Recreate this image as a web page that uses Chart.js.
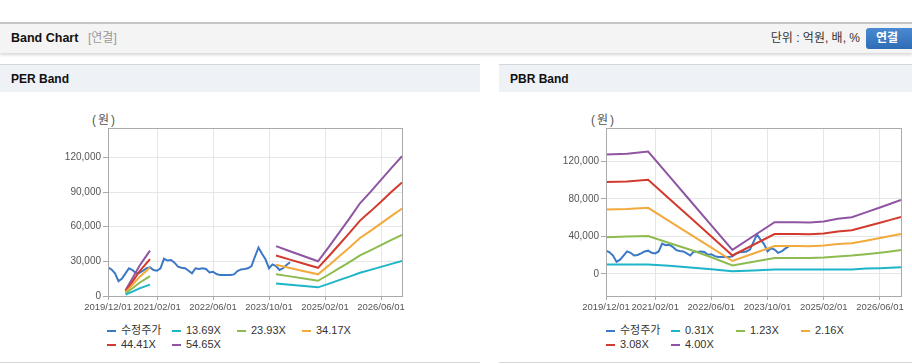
<!DOCTYPE html>
<html>
<head>
<meta charset="utf-8">
<script src="https://cdn.jsdelivr.net/npm/chart.js@4.4.0/dist/chart.umd.min.js"></script>
<style>
  body { margin: 0; width: 912px; height: 364px; overflow: hidden; background: #fff; position: relative;
         font-family: "Liberation Sans", "Noto Sans CJK KR", sans-serif; }
  .topbar { position: absolute; left: 0; top: 22px; width: 912px; height: 29px; background: #f4f4f4;
            border-top: 2px solid #c4c4c4; box-shadow: 0 2px 3px rgba(0,0,0,0.16); line-height: 29px; }
  .topbar .ttl { position: absolute; left: 11px; font-weight: bold; font-size: 12.5px; color: #111; }
  .topbar .sub { position: absolute; left: 88px; font-size: 12px; color: #999; }
  .topbar .unit { position: absolute; right: 52px; font-size: 12px; color: #333; }
  .topbar .btn { position: absolute; left: 866px; top: 4px; width: 50px; height: 21px; line-height: 21px;
                 border-radius: 3px; background: linear-gradient(#4b89d2, #2e6cb6); color: #fff;
                 font-weight: bold; font-size: 12px; text-indent: 10px; }
  .panel { position: absolute; top: 64px; height: 297px; border-top: 1px solid #d6d6d6; border-bottom: 1px solid #d6d6d6; }
  .phead { height: 27px; line-height: 29px; background: #eef1f6; font-weight: bold; font-size: 12px;
           color: #111; padding-left: 11px; }
  .unitlbl { position: absolute; top: 110px; font-size: 12px; color: #555; letter-spacing: 2px; }
  canvas { position: absolute; top: 92px; }
  .leg { position: absolute; top: 323px; width: 270px; font-size: 11px; color: #333; line-height: 14px; }
  .leg span { display: inline-block; width: 65px; white-space: nowrap; }
  .leg i { display: inline-block; width: 9px; height: 2px; margin-right: 5px; vertical-align: middle; }
</style>
</head>
<body>
<div class="topbar">
  <span class="ttl">Band Chart</span><span class="sub">[연결]</span>
  <span class="unit">단위 : 억원, 배, %</span><span class="btn">연결</span>
</div>
<div class="panel" style="left:0;width:480px"><div class="phead">PER Band</div></div>
<div class="panel" style="left:499px;width:413px"><div class="phead">PBR Band</div></div>
<span class="unitlbl" style="left:92px">(원)</span>
<span class="unitlbl" style="left:591px">(원)</span>
<canvas id="per" width="480" height="226" style="left:0"></canvas>
<canvas id="pbr" width="413" height="226" style="left:499px"></canvas>
<div class="leg" id="perLeg" style="left:107px"></div>
<div class="leg" id="pbrLeg" style="left:606px"></div>

<script>
// x axis: months since 2019/12/01
const xTickMonths = [0, 14, 30, 46, 62, 78];
const xTickLabels = ['2019/12/01', '2021/02/01', '2022/06/01', '2023/10/01', '2025/02/01', '2026/06/01'];

// 수정주가 (monthly, from 2019/12)
const price = [24800, 23000, 19600, 12800, 15200, 19600, 24000, 22500, 19600, 20200, 21900, 24000,
  24800, 22500, 21900, 24000, 32400, 30700, 31200, 28900, 25400, 24500, 24000, 21900, 19600, 24000,
  23400, 24000, 23400, 20400, 21000, 19000, 18100, 18100, 18100, 18100, 18700, 21600, 23000, 23400,
  24000, 26000, 34200, 42000, 36500, 31800, 24000, 27400, 26000, 22500, 24000, 26900, 29200];

// PER band (null = no band)
const perNames = ['수정주가', '13.69X', '23.93X', '34.17X', '44.41X', '54.65X'];
const perMonths = [5, 7, 9, 11, 12, 30, 48, 52, 56, 60, 63, 66, 69, 72, 75, 78, 81, 84];
const per1369 = [1200, 3800, 6600, 8800, 9900, null, 10800, 9700, 8600, 7500, 10500, 13700, 16800, 20100, 22600, 25200, 27800, 30300];
const per2393 = [2200, 6700, 11500, 15300, 17200, null, 18900, 17000, 15100, 13200, 18400, 23900, 29400, 35200, 39500, 44000, 48600, 53000];
const per3417 = [3100, 9600, 16400, 21900, 24600, null, 27000, 24300, 21500, 18800, 26300, 34200, 42000, 50200, 56400, 62900, 69400, 75700];
const per4441 = [4000, 12400, 21300, 28400, 32000, null, 35100, 31500, 28000, 24400, 34200, 44400, 54600, 65300, 73300, 81700, 90200, 98400];
const per5465 = [4900, 15300, 26200, 35000, 39300, null, 43200, 38800, 34400, 30100, 42100, 54700, 67200, 80300, 90200, 100600, 110900, 121100];
const perYTicks = [0, 30000, 60000, 90000, 120000];

// PBR band
const pbrNames = ['수정주가', '0.31X', '1.23X', '2.16X', '3.08X', '4.00X'];
const pbrMonths = [0, 6, 12, 18, 24, 30, 36, 42, 48, 54, 58, 62, 66, 70, 74, 78, 81, 84];
const pbr031 = [10000, 10000, 10000, 8600, 6800, 5000, 3000, 3700, 4700, 4700, 4700, 4700, 4700, 4800, 5700, 6100, 6500, 7100];
const pbr123 = [39200, 39800, 40300, 33000, 25800, 17800, 9000, 13000, 17100, 17100, 17100, 17600, 18600, 19600, 21000, 22600, 24000, 25400];
const pbr216 = [68700, 69100, 70400, 56300, 42100, 28000, 13800, 21800, 29800, 29800, 29600, 30200, 31800, 32600, 35400, 38200, 40400, 42600];
const pbr308 = [97900, 98600, 100400, 80200, 60100, 39900, 19700, 31100, 42500, 42500, 42200, 43100, 45300, 46500, 50500, 54500, 57600, 60700];
const pbr400 = [127200, 128000, 130400, 104200, 78000, 51800, 25600, 40400, 55200, 55200, 54800, 56000, 58800, 60400, 65600, 70800, 74800, 78800];
const pbrYTicks = [0, 40000, 80000, 120000];

const colors = ['#3b78c6', '#1db5c8', '#8dbb50', '#f2aa3c', '#d23a2e', '#8f55a2'];

Chart.defaults.font.family = '"Liberation Sans", "Noto Sans CJK KR", sans-serif';
Chart.defaults.font.size = 10;
Chart.defaults.color = '#555';

function points(months, values) {
  return values.map((v, i) => ({ x: months[i], y: v }));
}

// gray box around the plot
const boxPlugin = {
  id: 'box',
  afterDraw(chart) {
    const a = chart.chartArea, ctx = chart.ctx;
    ctx.save();
    ctx.strokeStyle = '#aaaaaa';
    ctx.lineWidth = 1;
    ctx.strokeRect(Math.round(a.left) + 0.5, Math.round(a.top) + 0.5,
      Math.round(a.right - a.left), Math.round(a.bottom - a.top));
    ctx.restore();
  }
};

function bandChart(id, months, bands, yMin, yMax, yTicks, yWidth, padRight) {
  const datasets = [{
    data: points(price.map((v, i) => i), price),
    borderColor: colors[0], order: 10
  }];
  bands.forEach((b, i) => datasets.push({ data: points(months, b), borderColor: colors[i + 1], order: 0 }));
  datasets.forEach(d => { d.borderWidth = 2; d.pointRadius = 0; d.spanGaps = false; d.tension = 0; });

  new Chart(document.getElementById(id), {
    type: 'line',
    data: { datasets },
    plugins: [boxPlugin],
    options: {
      responsive: false,
      animation: false,
      layout: { padding: { top: 36, right: padRight, bottom: 0, left: 0 } },
      plugins: { legend: { display: false }, tooltip: { enabled: false } },
      scales: {
        x: {
          type: 'linear', min: 0, max: 84,
          afterBuildTicks: s => { s.ticks = xTickMonths.map(v => ({ value: v })); },
          afterFit: s => { s.height = 22; },
          ticks: {
            autoSkip: false, maxRotation: 0, minRotation: 0, padding: 2, font: { size: 9.5 },
            callback: v => xTickLabels[xTickMonths.indexOf(v)]
          },
          grid: { color: '#e6e6e6', tickColor: '#aaa', tickLength: 4 },
          border: { display: false }
        },
        y: {
          min: yMin, max: yMax,
          afterBuildTicks: s => { s.ticks = yTicks.map(v => ({ value: v })); },
          afterFit: s => { s.width = yWidth; },
          ticks: { padding: 2, callback: v => v.toLocaleString('en-US') },
          grid: { color: '#e6e6e6', tickColor: '#aaa', tickLength: 5 },
          border: { display: false }
        }
      }
    }
  });
}

function legend(id, names) {
  document.getElementById(id).innerHTML = names.map((n, i) =>
    '<span><i style="background:' + colors[i] + '"></i>' + n + '</span>').join('');
}

bandChart('per', perMonths, [per1369, per2393, per3417, per4441, per5465], 0, 145500, perYTicks, 108, 78);
bandChart('pbr', pbrMonths, [pbr031, pbr123, pbr216, pbr308, pbr400], -23500, 155500, pbrYTicks, 107, 11);
legend('perLeg', perNames);
legend('pbrLeg', pbrNames);
</script>
</body>
</html>
